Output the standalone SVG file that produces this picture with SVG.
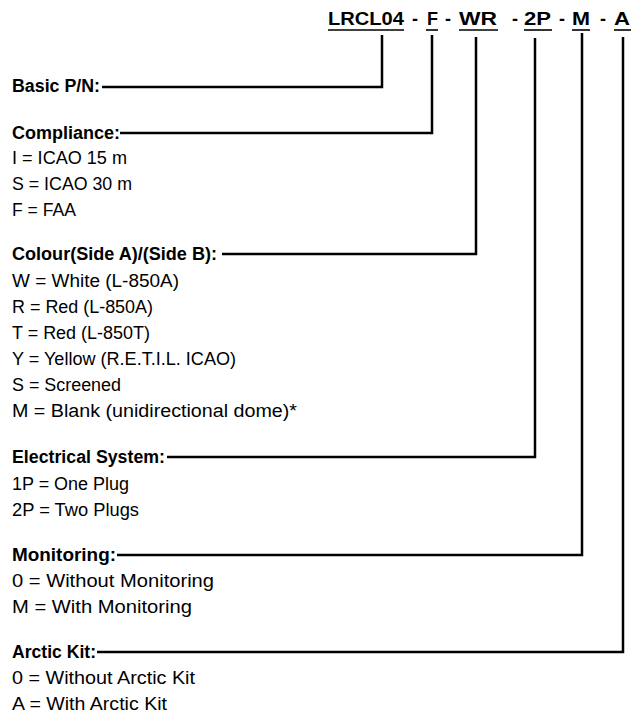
<svg xmlns="http://www.w3.org/2000/svg" width="633" height="715" viewBox="0 0 633 715">
<style>
text{font-family:"Liberation Sans",Arial,sans-serif;font-size:18px;fill:#000}
.h{font-weight:bold}
.pn{font-weight:bold;font-size:18px}
.ul{stroke:#000;stroke-width:1.6}
.c{fill:none;stroke:#000;stroke-width:2.5;stroke-linejoin:miter}
</style>
<rect width="633" height="715" fill="#fff"/>
<g id="partnumber">
<text class="pn" x="328" y="25" textLength="76" lengthAdjust="spacingAndGlyphs">LRCL04</text>
<text class="pn" x="415" y="25" text-anchor="middle">-</text>
<text class="pn" x="427" y="25" textLength="11" lengthAdjust="spacingAndGlyphs">F</text>
<text class="pn" x="448" y="25" text-anchor="middle">-</text>
<text class="pn" x="459" y="25" textLength="38" lengthAdjust="spacingAndGlyphs">WR</text>
<text class="pn" x="515" y="25" text-anchor="middle">-</text>
<text class="pn" x="524" y="25" textLength="27" lengthAdjust="spacingAndGlyphs">2P</text>
<text class="pn" x="562" y="25" text-anchor="middle">-</text>
<text class="pn" x="572" y="25" textLength="18" lengthAdjust="spacingAndGlyphs">M</text>
<text class="pn" x="603" y="25" text-anchor="middle">-</text>
<text class="pn" x="614" y="25" textLength="16" lengthAdjust="spacingAndGlyphs">A</text>
<line class="ul" x1="328" y1="30" x2="404" y2="30"/>
<line class="ul" x1="426" y1="30" x2="438" y2="30"/>
<line class="ul" x1="459" y1="30" x2="498" y2="30"/>
<line class="ul" x1="524" y1="30" x2="552" y2="30"/>
<line class="ul" x1="572" y1="30" x2="590" y2="30"/>
<line class="ul" x1="614" y1="30" x2="631" y2="30"/>
</g>
<g id="connectors">
<polyline class="c" points="102,87 382,87 382,35"/>
<polyline class="c" points="120,133 432,133 432,35"/>
<polyline class="c" points="222,254 476,254 476,37"/>
<polyline class="c" points="167,457 535,457 535,38"/>
<polyline class="c" points="117,555 582,555 582,33"/>
<polyline class="c" points="97,652 623,652 623,37"/>
</g>
<g id="basic">
<text class="h" x="12" y="92" textLength="88" lengthAdjust="spacingAndGlyphs">Basic P/N:</text>
</g>
<g id="compliance">
<text class="h" x="12" y="139" textLength="108" lengthAdjust="spacingAndGlyphs">Compliance:</text>
<text x="12" y="164" textLength="115" lengthAdjust="spacingAndGlyphs">I = ICAO 15 m</text>
<text x="12" y="190" textLength="120" lengthAdjust="spacingAndGlyphs">S = ICAO 30 m</text>
<text x="12" y="216" textLength="64" lengthAdjust="spacingAndGlyphs">F = FAA</text>
</g>
<g id="colour">
<text class="h" x="12" y="260" textLength="205" lengthAdjust="spacingAndGlyphs">Colour(Side A)/(Side B):</text>
<text x="12" y="287" textLength="167" lengthAdjust="spacingAndGlyphs">W = White (L-850A)</text>
<text x="12" y="313" textLength="141" lengthAdjust="spacingAndGlyphs">R = Red (L-850A)</text>
<text x="12" y="339" textLength="138" lengthAdjust="spacingAndGlyphs">T = Red (L-850T)</text>
<text x="12" y="365" textLength="224" lengthAdjust="spacingAndGlyphs">Y = Yellow (R.E.T.I.L. ICAO)</text>
<text x="12" y="391" textLength="109" lengthAdjust="spacingAndGlyphs">S = Screened</text>
<text x="12" y="417" textLength="285" lengthAdjust="spacingAndGlyphs">M = Blank (unidirectional dome)*</text>
</g>
<g id="electrical">
<text class="h" x="12" y="463" textLength="153" lengthAdjust="spacingAndGlyphs">Electrical System:</text>
<text x="12" y="490" textLength="117" lengthAdjust="spacingAndGlyphs">1P = One Plug</text>
<text x="12" y="516" textLength="127" lengthAdjust="spacingAndGlyphs">2P = Two Plugs</text>
</g>
<g id="monitoring">
<text class="h" x="12" y="561" textLength="104" lengthAdjust="spacingAndGlyphs">Monitoring:</text>
<text x="12" y="587" textLength="202" lengthAdjust="spacingAndGlyphs">0 = Without Monitoring</text>
<text x="12" y="613" textLength="180" lengthAdjust="spacingAndGlyphs">M = With Monitoring</text>
</g>
<g id="arctic">
<text class="h" x="12" y="658" textLength="84" lengthAdjust="spacingAndGlyphs">Arctic Kit:</text>
<text x="12" y="684" textLength="183" lengthAdjust="spacingAndGlyphs">0 = Without Arctic Kit</text>
<text x="12" y="710" textLength="155" lengthAdjust="spacingAndGlyphs">A = With Arctic Kit</text>
</g>
</svg>
